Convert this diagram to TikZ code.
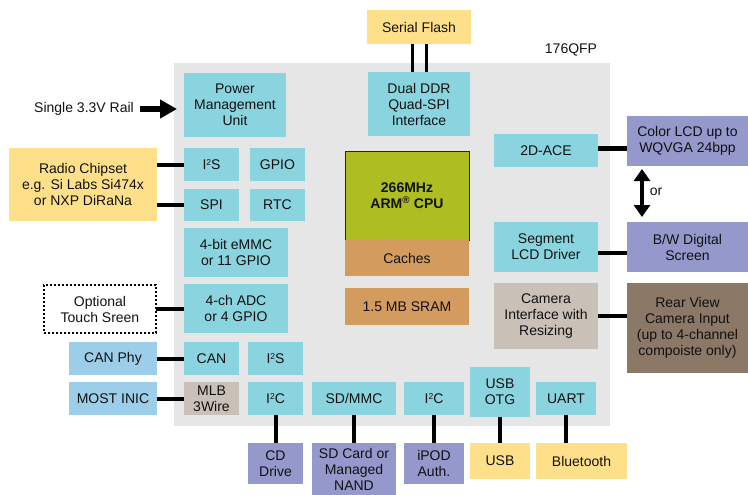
\documentclass[tikz,border=0pt]{standalone}
\usepackage{fontspec}
\setmainfont{Liberation Sans}
\usetikzlibrary{arrows.meta,calc}
\definecolor{cy}{HTML}{89D4DF}
\definecolor{yl}{HTML}{FFE08A}
\definecolor{pu}{HTML}{9498CB}
\definecolor{lb}{HTML}{9CCEE9}
\definecolor{bg}{HTML}{E6E6E6}
\definecolor{gr}{HTML}{AEBE22}
\definecolor{og}{HTML}{D39B5E}
\definecolor{be}{HTML}{C9C1B7}
\definecolor{br}{HTML}{8B7867}
\definecolor{tx}{HTML}{111111}
\newcommand\sqr{\raisebox{4.5pt}{\fontsize{8.5}{8.5}\selectfont 2}}
\tikzset{
  blk/.style={inner sep=0pt, outer sep=0pt, align=center, font=\fontsize{14}{16}\selectfont, text=tx},
  lbl/.style={inner sep=0pt, align=center, font=\fontsize{14}{16}\selectfont, text=tx},
  conn/.style={line width=4pt},
  thinconn/.style={line width=3pt},
}
\newcommand\blkbox[7]{\node[blk,#1,minimum width={#4-#2},minimum height={#5-#3}] (#6) at ({(#2+#4)/2},{(#3+#5)/2}) {#7};}
\begin{document}
\begin{tikzpicture}[x=1pt,y=-1pt]
\useasboundingbox (0,0) rectangle (748,495);
% chip background
\fill[bg] (174,63) rectangle (610,426);
\node[lbl] (qfp) at (571,50) {176QFP};
% top
\blkbox{fill=yl}{367}{10}{471}{44}{sflash}{Serial Flash}
\blkbox{fill=cy}{368}{72}{470}{136}{ddr}{Dual DDR\\Quad-SPI\\Interface}
% left column inside
\blkbox{fill=cy}{184}{73}{286}{137}{pmu}{Power\\Management\\Unit}
\blkbox{fill=cy}{184}{148}{239}{181}{iis}{I\sqr S}
\blkbox{fill=cy}{250}{148}{305}{181}{gpio}{GPIO}
\blkbox{fill=cy}{184}{189}{239}{221}{spi}{SPI}
\blkbox{fill=cy}{250}{189}{305}{221}{rtc}{RTC}
\blkbox{fill=cy}{184}{228}{288}{277}{emmc}{4-bit eMMC\\or 11 GPIO}
\blkbox{fill=cy}{184}{284}{288}{333}{adc}{4-ch ADC\\or 4 GPIO}
\blkbox{fill=cy}{184}{342}{239}{375}{can}{CAN}
\blkbox{fill=cy}{248}{342}{303}{375}{iisb}{I\sqr S}
\blkbox{fill=be}{184}{382}{239}{415}{mlb}{MLB\\3Wire}
\blkbox{fill=cy}{248}{382}{303}{415}{iic}{I\sqr C}
\blkbox{fill=cy}{312}{382}{396}{415}{sdmmc}{SD/MMC}
\blkbox{fill=cy}{404}{382}{464}{415}{iicb}{I\sqr C}
\blkbox{fill=cy}{470}{367}{530}{417}{otg}{USB\\OTG}
\blkbox{fill=cy}{536}{382}{596}{415}{uart}{UART}
% centre
\blkbox{fill=gr,draw=black!85,line width=1pt,font=\fontsize{14}{16}\selectfont\bfseries}{345}{151}{469}{240}{cpu}{266MHz\\ARM\textsuperscript{\textregistered} CPU}
\blkbox{fill=og}{345}{240}{469}{276}{cache}{Caches}
\blkbox{fill=og}{345}{288}{469}{325}{sram}{1.5 MB SRAM}
% right inside
\blkbox{fill=cy}{494}{134}{598}{167}{ace}{2D-ACE}
\blkbox{fill=cy}{494}{222}{598}{272}{seg}{Segment\\LCD Driver}
\blkbox{fill=be}{494}{283}{598}{349}{cam}{Camera\\Interface with\\Resizing}
% outside right
\blkbox{fill=pu}{627}{116}{748}{166}{lcd}{Color LCD up to\\WQVGA 24bpp}
\blkbox{fill=pu}{627}{222}{748}{272}{bw}{B/W Digital\\Screen}
\blkbox{fill=br}{627}{283}{748}{373}{rear}{Rear View\\Camera Input\\(up to 4-channel\\compoiste only)}
\node[lbl] (ortxt) at (656,192) {or};
% outside left
\blkbox{fill=yl}{9}{148}{157}{221}{radio}{Radio Chipset\\e.g. Si Labs Si474x\\or NXP DiRaNa}
\blkbox{draw=black,line width=1.3pt,dash pattern=on 2pt off 2pt}{44}{285}{156}{333}{touch}{Optional\\Touch Sreen}
\blkbox{fill=lb}{69}{342}{157}{375}{canphy}{CAN Phy}
\blkbox{fill=lb}{69}{382}{157}{415}{most}{MOST INIC}
\node[lbl,anchor=east] (rail) at (134,109) {Single 3.3V Rail};
% outside bottom
\blkbox{fill=pu}{248}{443}{303}{484}{cd}{CD\\Drive}
\blkbox{fill=pu}{312}{443}{396}{495}{sdcard}{SD Card or\\Managed\\NAND}
\blkbox{fill=pu}{404}{443}{464}{484}{ipod}{iPOD\\Auth.}
\blkbox{fill=yl}{470}{443}{530}{479}{usb}{USB}
\blkbox{fill=yl}{536}{443}{627}{479}{bt}{Bluetooth}
% connectors
\draw[thinconn] ([xshift=-7pt]sflash.south) -- ([xshift=-7pt]ddr.north);
\draw[thinconn] ([xshift=7pt]sflash.south) -- ([xshift=7pt]ddr.north);
\draw[line width=6pt,-{Triangle[length=17pt,width=18pt]},shorten <=6pt,shorten >=7pt] (rail.east) -- (rail.east -| pmu.west);
\draw[conn] (radio.east |- iis.west) -- (iis.west);
\draw[conn] (radio.east |- spi.west) -- (spi.west);
\draw[conn] (touch.east |- adc.west) -- (adc.west);
\draw[conn] (canphy.east) -- (can.west);
\draw[conn] (most.east) -- (mlb.west);
\draw[conn] (iic.south) -- (cd.north);
\draw[conn] (sdmmc.south) -- (sdcard.north);
\draw[conn] (iicb.south) -- (ipod.north);
\draw[conn] (otg.south) -- (usb.north);
\draw[conn] (uart.south) -- (uart.south |- bt.north);
\draw[conn] ([yshift=2pt]ace.east) -- ([yshift=2pt]ace.east -| lcd.west);
\draw[conn] ([yshift=-6pt]seg.east) -- ([yshift=-6pt]seg.east -| bw.west);
\draw[conn] (cam.east) -- (cam.east -| rear.west);
\draw[line width=4pt,{Triangle[length=12pt,width=16pt]}-{Triangle[length=12pt,width=16pt]}] ([xshift=15pt,yshift=-3pt]lcd.south west) -- ([xshift=15pt,yshift=5pt]bw.north west);
\end{tikzpicture}
\end{document}
